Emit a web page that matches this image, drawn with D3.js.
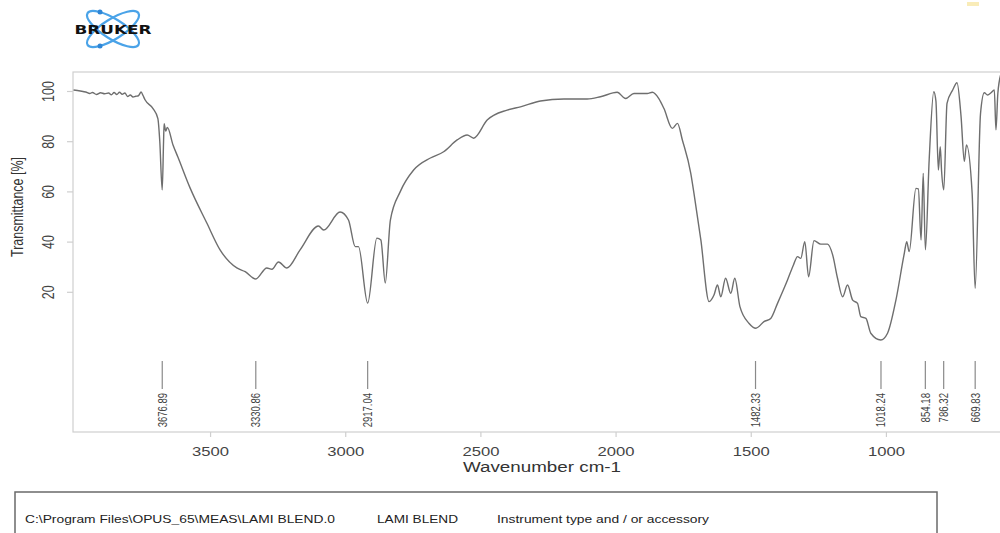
<!DOCTYPE html>
<html>
<head>
<meta charset="utf-8">
<script src="https://cdn.jsdelivr.net/npm/d3@7"></script>
<style>
  html, body { margin: 0; padding: 0; background: #fff; }
  svg { display: block; font-family: "Liberation Sans", Arial, sans-serif; }
</style>
</head>
<body>
<svg id="chart" width="1000" height="533"></svg>
<script>
// ---------- data ----------
const wavenumbers = [4005,3980,3960,3945,3935,3920,3905,3890,3875,3865,3855,3845,3835,3825,3815,3805,3795,3785,3775,3765,3755,3748,3740,3711,3693,3686,3677,3672,3670,3664,3658,3637,3619,3574,3512,3463,3401,3370,3331,3290,3271,3247,3216,3167,3099,3080,3019,2988,2963,2951,2917,2883,2868,2852,2833,2796,2747,2685,2636,2586,2549,2525,2475,2401,2352,2278,2191,2105,2056,1994,1963,1932,1883,1864,1840,1821,1790,1771,1753,1722,1710,1685,1654,1636,1623,1611,1593,1574,1559,1540,1506,1481,1451,1426,1401,1364,1342,1327,1315,1300,1286,1266,1241,1216,1197,1179,1160,1142,1123,1105,1093,1074,1056,1019,994,963,932,923,914,889,880,870,862,854,840,823,815,806,799,794,786,774,753,737,722,710,702,681,670,650,636,624,611,599,593,586,574];
const transmittance = [100.4,100.0,99.6,99.0,99.4,98.6,99.3,98.9,99.2,98.5,99.4,98.6,99.5,98.7,99.2,97.8,98.4,97.6,97.9,98.1,99.6,98.2,96.4,93.0,89.0,80.0,60.6,80.0,87.0,84.0,85.5,78.5,73.7,61.4,47.4,36.7,29.5,28.0,25.1,29.5,29.0,31.9,29.5,36.7,46.2,44.6,51.8,48.6,38.0,38.0,15.5,41.4,40.6,23.5,48.6,60.0,68.5,73.3,75.8,80.5,82.5,81.2,88.4,92.4,93.7,96.0,96.8,96.8,97.7,99.5,97.0,99.0,99.0,99.5,97.0,93.0,85.1,87.1,80.5,67.3,59.2,41.0,16.1,18.7,22.7,18.0,25.4,19.4,25.4,14.1,7.4,5.5,8.1,9.4,15.4,24.7,30.7,34.0,33.3,40.0,26.0,40.4,39.0,39.0,34.7,25.4,18.0,22.7,16.7,15.4,10.1,9.4,3.5,0.8,3.5,16.7,35.3,40.0,36.0,61.2,61.0,40.6,67.2,36.7,72.5,99.7,96.0,68.5,77.8,67.9,60.6,95.1,100.4,103.3,89.8,72.0,78.5,59.2,21.4,91.1,99.3,98.4,99.3,100.4,84.5,99.0,107.0];
const xTicks = [3500, 3000, 2500, 2000, 1500, 1000];
const yTicks = [20, 40, 60, 80, 100];
const peakPositions = [3676.89, 3330.86, 2917.04, 1482.33, 1018.24, 854.18, 786.32, 669.83];
const peakLabels = ["3676.89", "3330.86", "2917.04", "1482.33", "1018.24", "854.18", "786.32", "669.83"];
const xTitle = "Wavenumber cm-1";
const yTitle = "Transmittance [%]";
const footerTexts = ["C:\\Program Files\\OPUS_65\\MEAS\\LAMI BLEND.0", "LAMI BLEND", "Instrument type and / or accessory"];

// ---------- layout ----------
const svg = d3.select("#chart");
const plot = { left: 73, top: 72, right: 1001, bottom: 432 };

const x = d3.scaleLinear().domain([4007, 578]).range([plot.left, 1000]);
const y = d3.scaleLinear().domain([100, 0]).range([91, 342]);

// frame
svg.append("rect")
  .attr("x", plot.left).attr("y", plot.top)
  .attr("width", plot.right - plot.left).attr("height", plot.bottom - plot.top)
  .attr("fill", "none").attr("stroke", "#cfcfcf").attr("stroke-width", 1.2);

// x axis
const xAxis = d3.axisBottom(x).tickValues(xTicks).tickSize(5).tickSizeOuter(0).tickFormat(d3.format("d"));
const gx = svg.append("g").attr("transform", `translate(0,${plot.bottom})`).call(xAxis);
gx.select(".domain").remove();
gx.selectAll(".tick line").attr("stroke", "#cfcfcf").attr("stroke-width", 1.2);
gx.selectAll(".tick text")
  .attr("y", 15).attr("dy", "0.71em")
  .attr("fill", "#444").attr("font-size", 13)
  .attr("textLength", 37).attr("lengthAdjust", "spacingAndGlyphs")
  .attr("font-family", "Liberation Sans, Arial, sans-serif");

// y axis
const yAxis = d3.axisLeft(y).tickValues(yTicks).tickSize(6).tickSizeOuter(0).tickFormat(d3.format("d"));
const gy = svg.append("g").attr("transform", `translate(${plot.left},0)`).call(yAxis);
gy.select(".domain").remove();
gy.selectAll(".tick line").attr("stroke", "#cfcfcf").attr("stroke-width", 1.2);
gy.selectAll(".tick text").remove();
gy.selectAll(".tick").append("text")
  .attr("transform", "translate(-25,0) scale(1.3,1) rotate(-90)")
  .attr("text-anchor", "middle").attr("dy", "0.35em")
  .attr("fill", "#444").attr("font-size", 12.5)
  .attr("font-family", "Liberation Sans, Arial, sans-serif")
  .text(d => d);

// axis titles
svg.append("text")
  .attr("x", 542).attr("y", 472)
  .attr("text-anchor", "middle")
  .attr("font-size", 14).attr("fill", "#333")
  .attr("textLength", 158).attr("lengthAdjust", "spacingAndGlyphs")
  .text(xTitle);

svg.append("text")
  .attr("transform", "translate(23,207) scale(1.2,1) rotate(-90)")
  .attr("text-anchor", "middle")
  .attr("font-size", 13.5).attr("fill", "#333")
  .attr("textLength", 100).attr("lengthAdjust", "spacingAndGlyphs")
  .text(yTitle);

// spectrum
const pts = wavenumbers.map((w, i) => [w, transmittance[i]]);
const line = d3.line()
  .x(d => x(d[0])).y(d => y(d[1]))
  .curve(d3.curveMonotoneX);
svg.append("path")
  .datum(pts)
  .attr("d", line)
  .attr("fill", "none")
  .attr("stroke", "#6e6e6e")
  .attr("stroke-width", 1.4)
  .attr("stroke-linejoin", "round");

// peak markers
const pk = svg.append("g");
peakPositions.forEach((p, i) => {
  const px = x(p);
  pk.append("line")
    .attr("x1", px).attr("x2", px)
    .attr("y1", 361).attr("y2", 389)
    .attr("stroke", "#8a8a8a").attr("stroke-width", 1.2);
  pk.append("text")
    .attr("transform", `translate(${px},393) scale(1.15,1) rotate(-90)`)
    .attr("text-anchor", "end").attr("dy", "0.35em")
    .attr("font-size", 11).attr("fill", "#444")
    .attr("font-family", "Liberation Sans Narrow, Liberation Sans, Arial, sans-serif")
    .attr("textLength", peakLabels[i].length * 4.9).attr("lengthAdjust", "spacingAndGlyphs")
    .text(peakLabels[i]);
});

// footer box
svg.append("rect")
  .attr("x", 15).attr("y", 492).attr("width", 922).attr("height", 60)
  .attr("fill", "none").attr("stroke", "#6a6a6a").attr("stroke-width", 1.5);
const fx = [25, 377, 497];
const fw = [310, 81, 212];
footerTexts.forEach((t, i) => {
  svg.append("text")
    .attr("x", fx[i]).attr("y", 523)
    .attr("font-size", 11).attr("fill", "#222")
    .attr("textLength", fw[i]).attr("lengthAdjust", "spacingAndGlyphs")
    .text(t);
});

// Bruker logo
const logo = svg.append("g").attr("transform", "translate(113,29)");
logo.append("ellipse").attr("rx", 30).attr("ry", 10)
  .attr("transform", "rotate(32)").attr("fill", "none")
  .attr("stroke", "#4aa3e8").attr("stroke-width", 2.2);
logo.append("ellipse").attr("rx", 30).attr("ry", 10)
  .attr("transform", "rotate(-32)").attr("fill", "none")
  .attr("stroke", "#4aa3e8").attr("stroke-width", 2.2);
logo.append("circle").attr("cx", -13).attr("cy", -17).attr("r", 2.5).attr("fill", "#2f86d6");
logo.append("circle").attr("cx", -13).attr("cy", 17).attr("r", 2.5).attr("fill", "#2f86d6");
logo.append("text")
  .attr("x", 0).attr("y", 4.5)
  .attr("text-anchor", "middle")
  .attr("font-size", 13).attr("font-weight", "bold")
  .attr("fill", "#111")
  .attr("font-family", "DejaVu Sans, Liberation Sans, sans-serif")
  .attr("textLength", 77).attr("lengthAdjust", "spacingAndGlyphs")
  .text("BRUKER");

// faint yellow speck top-right
svg.append("rect").attr("x", 967).attr("y", 2).attr("width", 12).attr("height", 4)
  .attr("fill", "#f7e7a6").attr("opacity", 0.8);
</script>
</body>
</html>
